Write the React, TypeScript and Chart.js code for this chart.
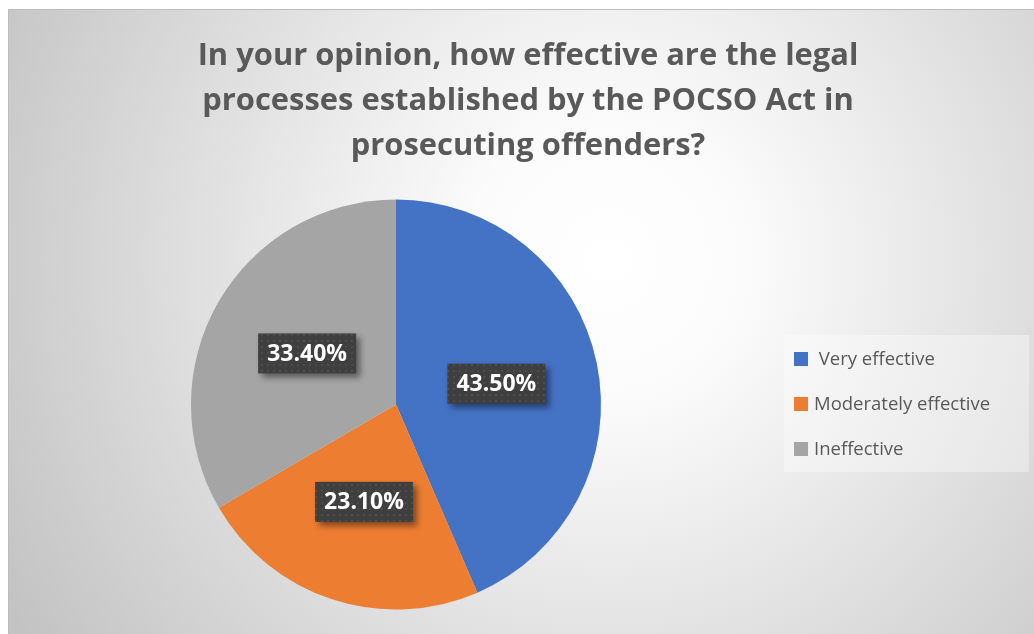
import React, { useEffect, useRef } from "react";
import { Chart, registerables } from "chart.js";

Chart.register(...registerables);

const titleLines = [
  "In your opinion, how effective are the legal",
  "processes established by the POCSO Act in",
  "prosecuting offenders?",
];
const categories = [" Very effective", "Moderately effective", "Ineffective"];
const values = [43.5, 23.1, 33.4];
const colors = ["#4472C4", "#ED7D31", "#A5A5A5"];

const CW = 1030;
const CH = 630;

function makePattern(ctx: CanvasRenderingContext2D) {
  const p = document.createElement("canvas");
  p.width = 6;
  p.height = 6;
  const c = p.getContext("2d")!;
  c.fillStyle = "#3f3f3f";
  c.fillRect(0, 0, 6, 6);
  c.fillStyle = "#4c4c4c";
  c.fillRect(1, 1, 2, 2);
  return ctx.createPattern(p, "repeat");
}

const decorPlugin = {
  id: "decor",
  beforeDraw(chart: any) {
    const ctx: CanvasRenderingContext2D = chart.ctx;
    ctx.save();
    const g = ctx.createRadialGradient(600, 250, 0, 600, 250, 700);
    g.addColorStop(0, "#ffffff");
    g.addColorStop(0.2, "#fbfbfb");
    g.addColorStop(1, "#c2c2c2");
    ctx.fillStyle = g;
    ctx.fillRect(0, 0, CW, CH);
    ctx.strokeStyle = "#bdbdbd";
    ctx.lineWidth = 1;
    ctx.strokeRect(0.5, 0.5, CW - 1, CH - 1);

    // title
    ctx.fillStyle = "#595959";
    ctx.textAlign = "center";
    ctx.textBaseline = "alphabetic";
    ctx.font = "bold 32px 'Open Sans'";
    const w = ctx.measureText(titleLines[0]).width;
    const size = Math.min(34, (32 * 661) / w);
    ctx.font = `bold ${size}px 'Open Sans'`;
    const baselines = [56, 101, 146];
    titleLines.forEach((t, i) => ctx.fillText(t, 520, baselines[i]));

    // legend
    ctx.fillStyle = "rgba(255,255,255,0.35)";
    ctx.fillRect(776, 326, 245, 137);
    ctx.font = "18.5px 'Open Sans'";
    ctx.textAlign = "left";
    ctx.textBaseline = "middle";
    const ds = chart.data.datasets[0];
    (chart.data.labels as string[]).forEach((lab, i) => {
      const y = 343 + i * 45;
      ctx.fillStyle = ds.backgroundColor[i];
      ctx.fillRect(786, y, 14, 14);
      ctx.fillStyle = "#595959";
      ctx.fillText(lab, 806, y + 7.5);
    });
    ctx.restore();
  },
  afterDatasetsDraw(chart: any) {
    const ctx: CanvasRenderingContext2D = chart.ctx;
    const meta = chart.getDatasetMeta(0);
    const pat = makePattern(ctx);
    const data = chart.data.datasets[0].data as number[];
    meta.data.forEach((arc: any, i: number) => {
      const pos = arc.tooltipPosition();
      const bw = 98;
      const bh = 40;
      ctx.save();
      ctx.shadowColor = "rgba(0,0,0,0.45)";
      ctx.shadowBlur = 6;
      ctx.shadowOffsetX = 4;
      ctx.shadowOffsetY = 4;
      ctx.fillStyle = pat || "#404040";
      ctx.fillRect(pos.x - bw / 2, pos.y - bh / 2, bw, bh);
      ctx.restore();
      ctx.save();
      ctx.fillStyle = "#ffffff";
      ctx.font = "bold 23px 'Open Sans'";
      ctx.textAlign = "center";
      ctx.textBaseline = "middle";
      ctx.fillText(data[i].toFixed(2) + "%", pos.x, pos.y + 1);
      ctx.restore();
    });
  },
};

export default function App() {
  const ref = useRef<HTMLCanvasElement | null>(null);
  useEffect(() => {
    if (!ref.current) return;
    const chart = new Chart(ref.current, {
      type: "pie",
      data: {
        labels: categories,
        datasets: [
          {
            data: values,
            backgroundColor: colors,
            borderWidth: 0,
            hoverOffset: 0,
          },
        ],
      },
      options: {
        responsive: false,
        animation: false,
        devicePixelRatio: 1,
        layout: { padding: { left: 183, right: 437, top: 190.5, bottom: 29.5 } },
        plugins: {
          legend: { display: false },
          tooltip: { enabled: false },
          title: { display: false },
        },
        events: [],
      },
      plugins: [decorPlugin],
    });
    return () => chart.destroy();
  }, []);
  return (
    <div style={{ position: "fixed", left: 8, top: 9, width: CW, height: CH, overflow: "hidden" }}>
      <canvas ref={ref} width={CW} height={CH} style={{ display: "block", width: CW, height: CH }} />
    </div>
  );
}
